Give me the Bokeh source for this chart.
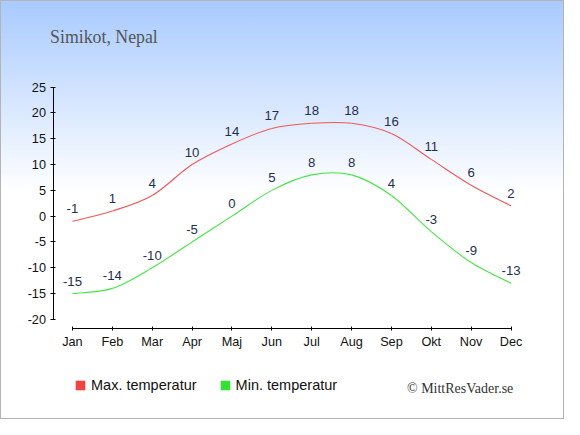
from bokeh.plotting import figure
from bokeh.models import Range1d, FixedTicker, Label, Legend, LegendItem, ColumnDataSource
from bokeh.core.properties import value
from bokeh.embed import file_html
from bokeh.resources import INLINE

months = ["Jan", "Feb", "Mar", "Apr", "Maj", "Jun", "Jul", "Aug", "Sep", "Okt", "Nov", "Dec"]
max_temp = [-1, 1, 4, 10, 14, 17, 18, 18, 16, 11, 6, 2]
min_temp = [-15, -14, -10, -5, 0, 5, 8, 8, 4, -3, -9, -13]
y_ticks = [-20, -15, -10, -5, 0, 5, 10, 15, 20, 25]

MAX_LINE = "#f25656"
MIN_LINE = "#44e644"
MAX_BOX = "#ee4444"
MIN_BOX = "#33e033"
LABEL_COL = "#1f2f4f"

W, H = 564, 419
p = figure(width=W, height=H, output_backend="svg", toolbar_location=None,
           x_range=Range1d(-1.8049, 12.3413), y_range=Range1d(-39.418, 41.805),
           min_border=0, min_border_left=0, min_border_right=0,
           min_border_top=0, min_border_bottom=0)
p.styles = {"background": "linear-gradient(to bottom, #a8caff 0px, #ffffff 193px, #ffffff 100%)",
            "box-shadow": "inset 0 0 0 1px #b4b4b4"}
p.background_fill_alpha = 0
p.border_fill_alpha = 0
p.outline_line_color = None
p.xgrid.visible = False
p.ygrid.visible = False

def spline_source(vals):
    n = len(vals)
    xs = list(range(n))
    d = dict(x0=[], y0=[], x1=[], y1=[], cx0=[], cy0=[], cx1=[], cy1=[])
    for i in range(n - 1):
        ip = max(i - 1, 0)
        inn = min(i + 2, n - 1)
        d["x0"].append(xs[i]); d["y0"].append(vals[i])
        d["x1"].append(xs[i + 1]); d["y1"].append(vals[i + 1])
        d["cx0"].append(xs[i] + (xs[i + 1] - xs[ip]) / 6)
        d["cy0"].append(vals[i] + (vals[i + 1] - vals[ip]) / 6)
        d["cx1"].append(xs[i + 1] - (xs[inn] - xs[i]) / 6)
        d["cy1"].append(vals[i + 1] - (vals[inn] - vals[i]) / 6)
    return ColumnDataSource(d)

p.bezier(x0="x0", y0="y0", x1="x1", y1="y1", cx0="cx0", cy0="cy0", cx1="cx1", cy1="cy1",
         source=spline_source(max_temp), line_color=MAX_LINE, line_width=1.1)
p.bezier(x0="x0", y0="y0", x1="x1", y1="y1", cx0="cx0", cy0="cy0", cx1="cx1", cy1="cy1",
         source=spline_source(min_temp), line_color=MIN_LINE, line_width=1.1)

idx = list(range(len(months)))
for vals in (max_temp, min_temp):
    p.text(x=idx, y=vals, text=[str(v) for v in vals], text_align="center", text_baseline="middle",
           y_offset=-12.5, text_font=value("Liberation Sans"), text_font_size="13.2px",
           text_color=LABEL_COL)

# axes (drawn inside the full-size frame at fixed locations)
xa = p.xaxis[0]
xa.ticker = FixedTicker(ticks=idx)
xa.major_label_overrides = {i: m for i, m in enumerate(months)}
xa.bounds = (0, 11)
xa.fixed_location = -21.867
ya = p.yaxis[0]
ya.ticker = FixedTicker(ticks=y_ticks)
ya.major_label_overrides = {v: str(v) for v in y_ticks}
ya.bounds = (-20, 25)
ya.fixed_location = -0.4635
for ax in (xa, ya):
    ax.axis_line_color = "black"
    ax.major_tick_line_color = "black"
    ax.minor_tick_line_color = None
    ax.major_label_text_font = "Liberation Sans"
    ax.major_label_text_font_size = "12.7px"
    ax.major_label_text_color = "#111111"
xa.major_tick_in = 2
xa.major_tick_out = 2
xa.major_label_standoff = 4
ya.major_tick_in = 2
ya.major_tick_out = 3
ya.major_label_standoff = 5

# legend
nan = float("nan")
r_max = p.quad(left=[nan], right=[nan], top=[nan], bottom=[nan], fill_color=MAX_BOX, line_color=None)
r_min = p.quad(left=[nan], right=[nan], top=[nan], bottom=[nan], fill_color=MIN_BOX, line_color=None)
legend = Legend(items=[LegendItem(label="Max. temperatur", renderers=[r_max]),
                       LegendItem(label="Min. temperatur", renderers=[r_min])],
                orientation="horizontal", location=(74, 26), padding=0, margin=0,
                spacing=22, label_standoff=5, glyph_width=12, glyph_height=12,
                border_line_color=None, background_fill_alpha=0,
                label_text_font="Liberation Sans", label_text_font_size="14.5px",
                label_text_color="#111111")
p.add_layout(legend, "center")

p.add_layout(Label(x=49.6, y=382.4, x_units="screen", y_units="screen", text="Simikot, Nepal",
                   text_font="Liberation Serif", text_font_size="17.8px", text_color="#555555",
                   text_baseline="alphabetic"))
p.add_layout(Label(x=406.5, y=30.8, x_units="screen", y_units="screen", text="© MittResVader.se",
                   text_font="Liberation Serif", text_font_size="14px", text_color="#333333",
                   text_baseline="alphabetic"))

open("out.html", "w").write(file_html(p, INLINE))
